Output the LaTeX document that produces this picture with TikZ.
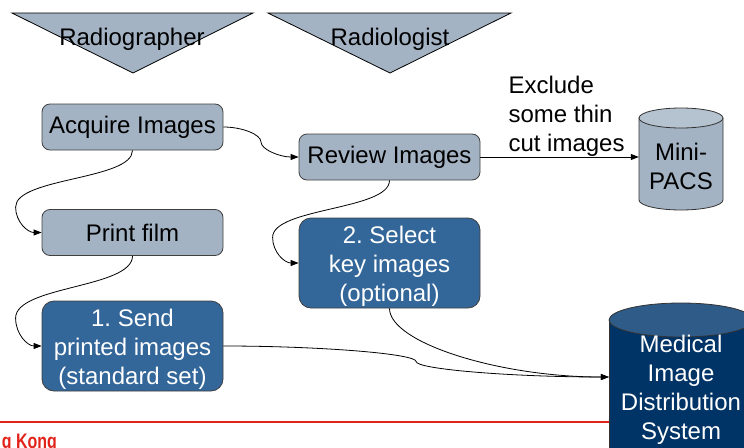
\documentclass[tikz,border=0pt]{standalone}
\usepackage{fontspec}
\setmainfont{Liberation Sans}
\usepackage{graphicx}
\usetikzlibrary{arrows.meta,calc}

\definecolor{paleblue}{HTML}{A3B3C4}
\definecolor{palecap}{HTML}{B5C2D0}
\definecolor{midblue}{HTML}{336699}
\definecolor{navy}{HTML}{003366}
\definecolor{navytop}{HTML}{2F5B88}
\definecolor{hkured}{HTML}{E2231A}

\newcommand{\cardlines}[1]{\raisebox{-3pt}[\height][\depth]{\parbox{181pt}{\centering #1}}}

\begin{document}
\begin{tikzpicture}[x=1pt,y=-1pt,
  every node/.style={font=\fontsize{24}{29}\selectfont\frenchspacing},
  stepcard/.style={draw=black!75, line width=0.8pt, inner sep=0pt,
    minimum width=181pt, align=center},
  lightbox/.style={stepcard, fill=paleblue, rounded corners=8pt, minimum height=46pt},
  darkbox/.style={stepcard, fill=midblue, text=white, rounded corners=12pt, minimum height=90pt},
  roletri/.style={draw=black, line width=0.8pt, fill=paleblue},
  drumline/.style={draw=black!80, line width=0.8pt},
  flow/.style={draw=black, line width=0.8pt, -{Triangle[length=8pt,width=6pt]}},
  % two-part S bend, horizontal at both ends
  sbend/.style={to path={let \p1=(\tikztostart), \p2=(\tikztotarget) in
    .. controls ({0.75*\x1+0.25*\x2},\y1) and ({0.5*\x1+0.5*\x2},{0.75*\y1+0.25*\y2})
    .. ({0.5*\x1+0.5*\x2},{0.5*\y1+0.5*\y2})
    .. controls ({0.5*\x1+0.5*\x2},{0.25*\y1+0.75*\y2}) and ({0.25*\x1+0.75*\x2},\y2)
    .. (\p2)}},
  % leaves downwards, swings out to the left, enters from the left
  swing/.style={to path={let \p1=(\tikztostart), \p2=(\tikztotarget) in
    .. controls (\x1,{\y1+0.36*(\y2-\y1)}) and ({\x2-26pt},{\y1+0.33*(\y2-\y1)})
    .. ({\x2-26pt},{\y1+0.69*(\y2-\y1)})
    .. controls ({\x2-26pt},{\y1+0.87*(\y2-\y1)}) and ({\x2-14pt},\y2)
    .. (\p2)}},
  % leaves downwards, enters from the left
  drop/.style={to path={let \p1=(\tikztostart), \p2=(\tikztotarget) in
    .. controls (\x1,{0.5*\y1+0.5*\y2}) and ({0.5*\x1+0.5*\x2},\y2) .. (\p2)}}
]
\clip (0,0) rectangle (744,447);

% role banners
\draw[roletri] (12,13) -- (253,13) -- (133,73) -- cycle;
\draw[roletri] (268,13) -- (511,13) -- (390,73) -- cycle;
\node[anchor=base] (radiographer) at (132,45) {Radiographer};
\node[anchor=base] (radiologist) at (390,45) {Radiologist};

% footer rule and institution name
\draw[hkured, line width=1.2pt] (0,422) -- (615,422);
\node[anchor=base east, inner sep=0pt, text=hkured,
  font=\fontsize{21}{24}\selectfont\bfseries] (footer) at (57,448)
  {\scalebox{0.76}[1]{g Kong}};

% process steps
\node[lightbox] (acquire) at (132.5,127) {Acquire Images};
\node[lightbox] (review) at (389.5,157) {Review Images};
\node[lightbox] (print) at (132.5,232.5) {Print film};
\node[darkbox] (send) at (132.5,346) {\cardlines{1. Send\\printed images\\(standard set)}};
\node[darkbox] (select) at (389.5,263) {\cardlines{2. Select\\key images\\(optional)}};

% Mini-PACS store
\draw[drumline, fill=paleblue] (639,118) -- (639,200)
  arc[start angle=180, end angle=0, x radius=42, y radius=10] -- (723,118) -- cycle;
\draw[drumline, fill=palecap] (681,118) ellipse[x radius=42, y radius=10];
\node[inner sep=0pt, minimum width=84pt, minimum height=100pt] (pacsdrum) at (681,157) {};
\node[anchor=base, align=center] (pacstext) at (681,189) {Mini-\\PACS};

% distribution system store
\draw[drumline, fill=navy] (609,320) -- (609,470) -- (753,470) -- (753,320) -- cycle;
\draw[drumline, fill=navytop] (681,320) ellipse[x radius=72, y radius=17];
\node[inner sep=0pt, minimum width=144pt, minimum height=114pt] (mdsdrum) at (681,377) {};
\node[anchor=base, align=center, text=white] (mdstext) at (681,439)
  {Medical\\Image\\Distribution\\System};

% note on the Mini-PACS feed
\node[anchor=base west, align=left] (exclude) at (505,151)
  {Exclude\\some thin\\cut images};

% connectors
\draw[flow] (acquire.east) to[sbend] (review.west);
\draw[flow] (acquire.south) to[swing] (print.west);
\draw[flow] (print.south) to[swing] (send.west);
\draw[flow] (review.south) to[swing] (select.west);
\draw[flow] (review.east) -- (review.east -| pacsdrum.west);
\draw[flow] (send.east) to[sbend] (mdsdrum.west);
\draw[flow] (select.south) to[drop] (mdsdrum.west);
\end{tikzpicture}
\end{document}
